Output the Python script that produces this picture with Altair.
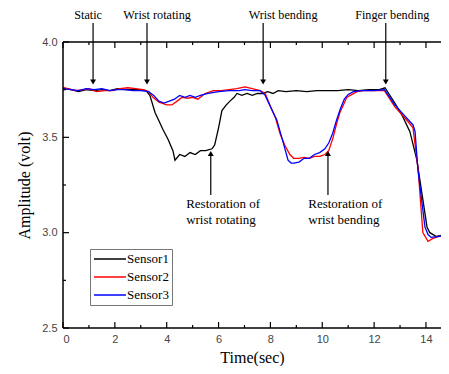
import altair as alt
import pandas as pd

# ---------------- data ----------------
s1_t = [0, 0.3, 0.6, 0.9, 1.2, 1.5, 1.8, 2.1, 2.4, 2.7, 3.0, 3.2, 3.35, 3.55, 3.86, 4.05, 4.24, 4.32,
        4.5, 4.7, 4.9, 5.1, 5.3, 5.5, 5.75, 5.85, 6.0, 6.13, 6.3, 6.44, 6.6, 6.71, 6.9, 7.1, 7.3, 7.5,
        7.7, 7.9, 8.1, 8.3, 8.6, 9.0, 9.4, 9.8, 10.2, 10.6, 11.0, 11.4, 11.8, 12.2, 12.42, 12.8, 13.1,
        13.38, 13.65, 14.04, 14.15, 14.4, 14.7, 14.9]
s1_v = [3.76, 3.75, 3.74, 3.75, 3.745, 3.75, 3.745, 3.755, 3.75, 3.75, 3.75, 3.745, 3.72, 3.63, 3.54,
        3.49, 3.43, 3.38, 3.41, 3.40, 3.42, 3.41, 3.43, 3.43, 3.44, 3.46, 3.55, 3.64, 3.67, 3.69, 3.71,
        3.73, 3.72, 3.73, 3.72, 3.73, 3.73, 3.74, 3.73, 3.745, 3.74, 3.745, 3.74, 3.745, 3.745, 3.745,
        3.75, 3.745, 3.75, 3.75, 3.76, 3.68, 3.61, 3.53, 3.38, 3.03, 3.0, 2.98, 2.99, 3.0]

s2_t = [0, 0.2, 0.5, 0.8, 1.0, 1.3, 1.6, 1.9, 2.2, 2.5, 2.8, 3.1, 3.3, 3.47, 3.7, 4.0, 4.2, 4.4, 4.6,
        4.8, 5.0, 5.2, 5.48, 5.8, 6.1, 6.4, 6.7, 7.02, 7.3, 7.6, 7.8, 7.98, 8.2, 8.37, 8.55, 8.75, 8.9,
        9.1, 9.3, 9.5, 9.7, 9.9, 10.1, 10.25, 10.42, 10.55, 10.68, 10.85, 10.95, 11.15, 11.34, 11.6,
        12.0, 12.4, 12.8, 13.2, 13.5, 13.7, 13.88, 14.08, 14.27, 14.5, 14.7, 14.9]
s2_v = [3.76, 3.755, 3.745, 3.75, 3.755, 3.74, 3.745, 3.745, 3.755, 3.76, 3.755, 3.75, 3.74, 3.71,
        3.685, 3.67, 3.67, 3.69, 3.71, 3.705, 3.71, 3.70, 3.73, 3.745, 3.745, 3.75, 3.755, 3.765, 3.755,
        3.745, 3.73, 3.67, 3.60, 3.52, 3.46, 3.41, 3.39, 3.39, 3.395, 3.39, 3.40, 3.40, 3.41, 3.43,
        3.50, 3.57, 3.63, 3.68, 3.71, 3.725, 3.74, 3.745, 3.745, 3.745, 3.66, 3.60, 3.55, 3.33, 3.0,
        2.955, 2.97, 2.98, 2.985, 3.0]

s3_t = [0, 0.3, 0.6, 0.9, 1.2, 1.5, 1.8, 2.1, 2.4, 2.7, 3.0, 3.3, 3.5, 3.7, 3.9, 4.1, 4.3, 4.5, 4.7,
        4.9, 5.1, 5.3, 5.6, 6.0, 6.4, 6.8, 7.0, 7.3, 7.6, 7.8, 8.0, 8.25, 8.5, 8.68, 8.8, 8.9, 9.1,
        9.3, 9.5, 9.7, 9.9, 10.1, 10.25, 10.4, 10.55, 10.7, 10.85, 11.0, 11.2, 11.5, 12.0, 12.4, 12.8,
        13.2, 13.5, 13.58, 13.69, 13.96, 14.08, 14.2, 14.5, 14.7, 14.9]
s3_v = [3.755, 3.75, 3.745, 3.755, 3.75, 3.755, 3.745, 3.75, 3.75, 3.745, 3.745, 3.74, 3.72, 3.69,
        3.68, 3.69, 3.70, 3.72, 3.71, 3.72, 3.71, 3.72, 3.73, 3.74, 3.745, 3.745, 3.75, 3.745, 3.745,
        3.72, 3.66, 3.59, 3.47, 3.38, 3.365, 3.365, 3.37, 3.39, 3.39, 3.41, 3.42, 3.44, 3.47, 3.52,
        3.59, 3.65, 3.70, 3.725, 3.74, 3.745, 3.745, 3.75, 3.67, 3.61, 3.565, 3.53, 3.33, 3.03, 2.99,
        2.975, 2.98, 2.99, 3.0]

sensors = ["Sensor1", "Sensor2", "Sensor3"]
colors = ["#000000", "#ff0000", "#0000ff"]

top_labels = ["Static", "Wrist rotating", "Wrist bending", "Finger bending"]
top_label_x = [0.97, 3.63, 8.49, 12.70]
top_arrow_x = [1.16, 3.24, 7.72, 12.45]

bottom_lines = ["Restoration of", "wrist rotating", "Restoration of", "wrist bending"]
bottom_text_x = [4.75, 4.75, 9.46, 9.46]
bottom_text_y = [3.1295, 3.0456, 3.1295, 3.0456]
bottom_arrow_x = [5.70, 10.22]

x_label_values = [0, 2, 4, 6, 8, 10, 12, 14]
x_minor_values = [1, 3, 5, 7, 9, 11, 13]
y_label_values = [2.5, 3.0, 3.5, 4.0]
y_minor_values = [2.75, 3.25, 3.75]

# ---------------- tables ----------------
rows = []
for name, ts, vs in [("Sensor1", s1_t, s1_v), ("Sensor2", s2_t, s2_v), ("Sensor3", s3_t, s3_v)]:
    for t, v in zip(ts, vs):
        rows.append({"t": t, "v": v, "sensor": name})
df = pd.DataFrame(rows)

W, H = 378, 286
xs = alt.Scale(domain=[0, 14.58], nice=False, zero=False)
ys = alt.Scale(domain=[2.5, 4.0], nice=False, zero=False)
SERIF = "Liberation Serif, Times New Roman, serif"
SANS = "Liberation Sans, Arial, sans-serif"

XAXIS = alt.Axis(values=x_label_values, title="Time(sec)", labelFont=SANS, labelFontSize=11,
                 labelColor="#444444", labelPadding=5, domain=False, ticks=False, grid=False,
                 titleFont=SERIF, titleFontSize=16, titleFontWeight="normal", titleColor="black",
                 titlePadding=5)
YAXIS = alt.Axis(values=y_label_values, format=".1f", title="Amplitude (volt)", labelFont=SANS,
                 labelFontSize=11, labelColor="#444444", labelPadding=6, domain=False,
                 ticks=False, grid=False, titleFont=SERIF, titleFontSize=16,
                 titleFontWeight="normal", titleColor="black", titlePadding=9)


def X(field):
    return alt.X(field, scale=xs, axis=XAXIS)


def Y(field):
    return alt.Y(field, scale=ys, axis=YAXIS)


lines = alt.Chart(df).mark_line(strokeWidth=1.3, clip=True).encode(
    x=X("t:Q"),
    y=Y("v:Q"),
    color=alt.Color("sensor:N", scale=alt.Scale(domain=sensors, range=colors),
                    legend=alt.Legend(title=None, orient="none", legendX=27, legendY=207,
                                      symbolType="M-1,0H4.33", symbolSize=144,
                                      symbolStrokeWidth=1.5,
                                      labelFont=SERIF, labelFontSize=13, labelColor="black",
                                      strokeColor="#777777", fillColor="white", padding=3,
                                      rowPadding=4, labelOffset=20, cornerRadius=0)),
)

# frame (left, top, bottom; right side lies beyond the picture)
frame = [
    alt.Chart(pd.DataFrame({"x": [0]})).mark_rule(color="black", strokeWidth=1.5).encode(
        x=alt.value(0), y=alt.value(0), y2=alt.value(H)),
    alt.Chart(pd.DataFrame({"x": [0]})).mark_rule(color="black", strokeWidth=1.5).encode(
        x=alt.value(0), x2=alt.value(W), y=alt.value(0)),
    alt.Chart(pd.DataFrame({"x": [0]})).mark_rule(color="black", strokeWidth=1.5).encode(
        x=alt.value(0), x2=alt.value(W), y=alt.value(H)),
]


# tick marks (inside)
def hticks(values, length, top):
    d = pd.DataFrame({"x": values})
    if top:
        return alt.Chart(d).mark_rule(color="black", strokeWidth=1.2).encode(
            x=X("x:Q"), y=alt.value(0), y2=alt.value(length))
    return alt.Chart(d).mark_rule(color="black", strokeWidth=1.2).encode(
        x=X("x:Q"), y=alt.value(H), y2=alt.value(H - length))


def vticks(values, length):
    d = pd.DataFrame({"y": values})
    return alt.Chart(d).mark_rule(color="black", strokeWidth=1.2).encode(
        y=Y("y:Q"), x=alt.value(0), x2=alt.value(length))


ticks = [
    hticks(x_label_values, 6, False), hticks(x_minor_values, 3, False),
    hticks(x_label_values, 6, True), hticks(x_minor_values, 3, True),
    vticks(y_label_values, 6), vticks(y_minor_values, 3),
]

# top annotations
top_txt_df = pd.DataFrame({"x": top_label_x, "y": [4.1225] * 4, "label": top_labels})
top_txt = alt.Chart(top_txt_df).mark_text(font=SERIF, fontSize=12.2, color="black",
                                          baseline="alphabetic").encode(
    x=X("x:Q"), y=Y("y:Q"), text="label:N")

top_arr_df = pd.DataFrame({"x": top_arrow_x, "y1": [4.10] * 4, "y2": [3.80] * 4, "yh": [3.79] * 4})
top_shaft = alt.Chart(top_arr_df).mark_rule(color="black", strokeWidth=1.2).encode(
    x=X("x:Q"), y=Y("y1:Q"), y2="y2:Q")
top_head = alt.Chart(top_arr_df).mark_point(shape="triangle-down", filled=True, size=35,
                                           color="black", opacity=1).encode(
    x=X("x:Q"), y=Y("yh:Q"))

# bottom annotations
bot_txt_df = pd.DataFrame({"x": bottom_text_x, "y": bottom_text_y, "label": bottom_lines})
bot_txt = alt.Chart(bot_txt_df).mark_text(font=SERIF, fontSize=13, color="black",
                                          align="left", baseline="alphabetic").encode(
    x=X("x:Q"), y=Y("y:Q"), text="label:N")

bot_arr_df = pd.DataFrame({"x": bottom_arrow_x, "y1": [3.198] * 2, "y2": [3.415] * 2,
                           "yh": [3.415] * 2})
bot_shaft = alt.Chart(bot_arr_df).mark_rule(color="black", strokeWidth=1.2).encode(
    x=X("x:Q"), y=Y("y1:Q"), y2="y2:Q")
bot_head = alt.Chart(bot_arr_df).mark_point(shape="triangle-up", filled=True, size=35,
                                           color="black", opacity=1).encode(
    x=X("x:Q"), y=Y("yh:Q"))

chart = alt.layer(
    lines, *frame, *ticks, top_shaft, top_head, top_txt, bot_shaft, bot_head, bot_txt
).properties(
    width=W, height=H,
    autosize=alt.AutoSizeParams(type="none"),
    padding={"left": 55, "top": 34, "right": 0, "bottom": 38},
).configure(
    background="white",
    view=alt.ViewConfig(stroke=None),
)

chart.save("out.html", embed_options={"renderer": "svg", "actions": False})
